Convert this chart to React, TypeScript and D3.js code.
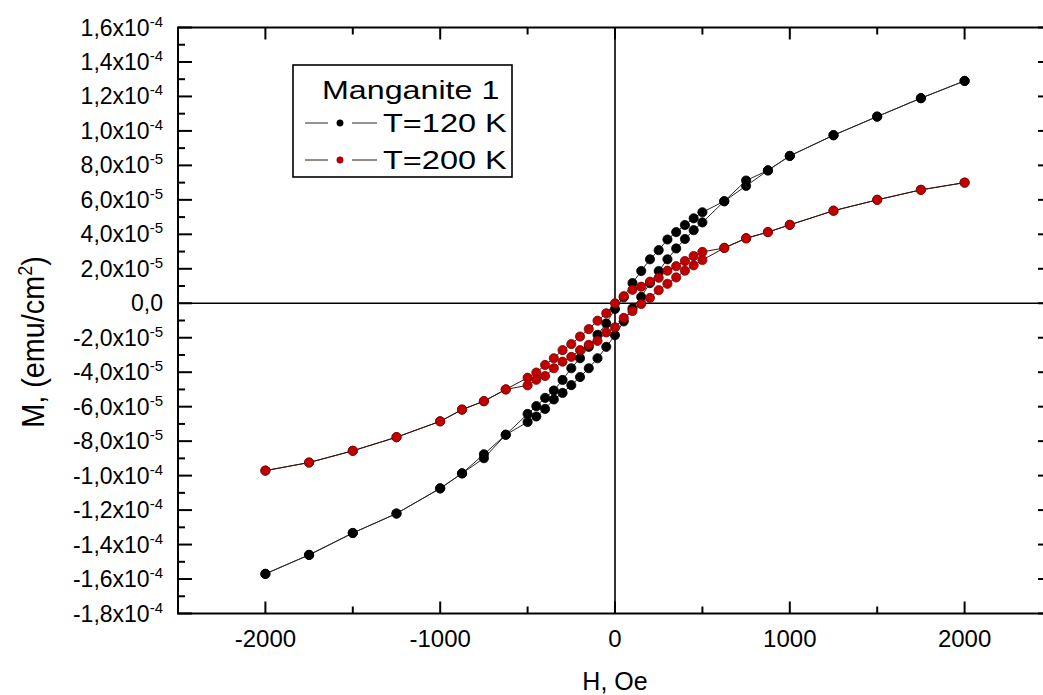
import React from "react";
import * as d3 from "d3";

// field steps of the loop, Oe (descending branch; ascending is the reverse)
const fieldDown = [
  2000, 1750, 1500, 1250, 1000, 875, 750, 625, 500, 450, 400, 350, 300, 250,
  200, 150, 100, 50, 0, -50, -100, -150, -200, -250, -300, -350, -400, -450,
  -500, -625, -750, -875, -1000, -1250, -1500, -1750, -2000,
];
const fieldUp = [...fieldDown].reverse();

// magnetisation in units of 1e-5 emu/cm^2
const m120Down = [
  12.9, 11.9, 10.83, 9.75, 8.55, 7.71, 7.12, 5.92, 5.28, 4.93, 4.54, 4.13,
  3.7, 3.08, 2.55, 1.87, 1.17, 0.35, -0.33, -1.17, -1.83, -2.53, -3.19, -3.77,
  -4.45, -5.06, -5.49, -5.97, -6.42, -7.63, -8.76, -9.87, -10.74, -12.2,
  -13.33, -14.6, -15.7,
];
const m120Up = [
  -15.7, -14.6, -13.33, -12.2, -10.74, -9.87, -8.99, -7.63, -6.89, -6.57,
  -6.13, -5.58, -5.2, -4.75, -4.28, -3.77, -3.19, -2.53, -1.85, -1.05, -0.3,
  0.37, 1.17, 1.87, 2.55, 3.18, 3.73, 4.24, 4.69, 5.92, 6.81, 7.71, 8.55, 9.75,
  10.83, 11.9, 12.9,
];
const m200Down = [
  7.0, 6.58, 6.0, 5.37, 4.55, 4.13, 3.78, 3.21, 2.98, 2.74, 2.45, 2.15, 1.89,
  1.48, 1.25, 0.96, 0.78, 0.41, 0.0, -0.58, -1.01, -1.5, -1.93, -2.37, -2.72,
  -3.19, -3.58, -4.02, -4.32, -5.0, -5.68, -6.17, -6.85, -7.77, -8.56, -9.24,
  -9.71,
];
const m200Up = [
  -9.71, -9.24, -8.56, -7.77, -6.85, -6.17, -5.68, -5.0, -4.76, -4.44, -4.22,
  -3.77, -3.39, -3.11, -2.72, -2.41, -2.18, -1.69, -1.4, -0.85, -0.45, -0.04,
  0.31, 0.76, 1.13, 1.5, 1.89, 2.2, 2.51, 3.21, 3.76, 4.13, 4.55, 5.37, 6.0,
  6.58, 7.0,
];

const xMajor = [-2000, -1000, 0, 1000, 2000];
const xMinor = [-2500, -1500, -500, 500, 1500, 2500];
const yMajor = [-18, -16, -14, -12, -10, -8, -6, -4, -2, 0, 2, 4, 6, 8, 10, 12, 14, 16];
const yMinor = [-17, -15, -13, -11, -9, -7, -5, -3, -1, 1, 3, 5, 7, 9, 11, 13, 15];

const seriesNames = ["T=120 K", "T=200 K"];

const font = "'Liberation Sans', Arial, sans-serif";

const W = 1043;
const H = 695;
const left = 178;
const right = 1052;
const top = 27.5;
const bottom = 613.5;

const x = d3.scaleLinear().domain([-2500, 2500]).range([left, right]);
const y = d3.scaleLinear().domain([-18, 16]).range([bottom, top]);

type Pt = [number, number];

const loop = (down: number[], up: number[]): Pt[] => [
  ...fieldDown.map((h, i) => [h, down[i]] as Pt),
  ...fieldUp.map((h, i) => [h, up[i]] as Pt),
];

const series = [
  { name: seriesNames[0], pts: loop(m120Down, m120Up), fill: "#000", stroke: "#000", line: "#2a2a2a" },
  { name: seriesNames[1], pts: loop(m200Down, m200Up), fill: "#c00000", stroke: "#7a0000", line: "#3a1010" },
];

const line = d3
  .line<Pt>()
  .x((d) => x(d[0]))
  .y((d) => y(d[1]));

// "1,6x10^-4" style labels
const yLabel = (v: number) => {
  if (v === 0) return { main: "0,0", exp: "" };
  const e = Math.abs(v) >= 10 ? -4 : -5;
  const m = e === -4 ? v / 10 : v;
  return { main: m.toFixed(1).replace(".", ",") + "x10", exp: String(e) };
};

const App = () => {
  return (
    <svg
      width={W}
      height={H}
      style={{ position: "absolute", left: 0, top: 0, background: "#fff" }}
      fontFamily={font}
    >
      <rect width={W} height={H} fill="#fff" />

      {/* zero lines */}
      <line x1={x(0)} x2={x(0)} y1={top} y2={bottom} stroke="#000" strokeWidth={1.6} />
      <line x1={left} x2={right} y1={y(0)} y2={y(0)} stroke="#000" strokeWidth={1.6} />

      {/* ticks */}
      {xMajor.map((v) => (
        <g key={"xm" + v}>
          <line x1={x(v)} x2={x(v)} y1={bottom} y2={bottom - 12} stroke="#000" strokeWidth={2} />
          <line x1={x(v)} x2={x(v)} y1={top} y2={top + 12} stroke="#000" strokeWidth={2} />
          <text x={x(v)} y={647} textAnchor="middle" fontSize={24}>
            {v}
          </text>
        </g>
      ))}
      {xMinor.map((v) => (
        <g key={"xn" + v}>
          <line x1={x(v)} x2={x(v)} y1={bottom} y2={bottom - 7} stroke="#000" strokeWidth={2} />
          <line x1={x(v)} x2={x(v)} y1={top} y2={top + 7} stroke="#000" strokeWidth={2} />
        </g>
      ))}
      {yMajor.map((v) => {
        const l = yLabel(v);
        return (
          <g key={"ym" + v}>
            <line x1={left} x2={left + 14} y1={y(v)} y2={y(v)} stroke="#000" strokeWidth={2} />
            <line x1={right} x2={right - 14} y1={y(v)} y2={y(v)} stroke="#000" strokeWidth={2} />
            <text x={163} y={y(v) + 8} textAnchor="end" fontSize={23}>
              {l.main}
              {l.exp && (
                <tspan dy={-9} fontSize={15}>
                  {l.exp}
                </tspan>
              )}
            </text>
          </g>
        );
      })}
      {yMinor.map((v) => (
        <g key={"yn" + v}>
          <line x1={left} x2={left + 7} y1={y(v)} y2={y(v)} stroke="#000" strokeWidth={2} />
          <line x1={right} x2={right - 7} y1={y(v)} y2={y(v)} stroke="#000" strokeWidth={2} />
        </g>
      ))}

      {/* frame */}
      <rect
        x={left}
        y={top}
        width={right - left}
        height={bottom - top}
        fill="none"
        stroke="#000"
        strokeWidth={2}
      />

      {/* data */}
      {series.map((s) => (
        <g key={s.name}>
          <path d={line(s.pts) || ""} fill="none" stroke={s.line} strokeWidth={1} />
          {s.pts.map((p, i) => (
            <circle
              key={i}
              cx={x(p[0])}
              cy={y(p[1])}
              r={4.6}
              fill={s.fill}
              stroke={s.stroke}
              strokeWidth={0.8}
            />
          ))}
        </g>
      ))}

      {/* legend */}
      <rect x={293} y={65} width={219} height={112} fill="#fff" stroke="#000" strokeWidth={1.6} />
      <text transform="translate(322,99) scale(1.24,1)" fontSize={26}>
        Manganite 1
      </text>
      {series.map((s, i) => {
        const ly = 123 + i * 37;
        return (
          <g key={"lg" + s.name}>
            <line x1={305} x2={328} y1={ly} y2={ly} stroke={s.line} strokeWidth={1} />
            <line x1={352} x2={377} y1={ly} y2={ly} stroke={s.line} strokeWidth={1} />
            <circle cx={340} cy={ly} r={3.2} fill={s.fill} stroke={s.stroke} strokeWidth={0.6} />
            <text transform={`translate(383,${ly + 9}) scale(1.25,1)`} fontSize={26}>
              {s.name}
            </text>
          </g>
        );
      })}

      {/* axis titles */}
      <text x={x(0)} y={690} textAnchor="middle" fontSize={25}>
        H, Oe
      </text>
      <text transform="translate(44,342) rotate(-90) scale(0.9,1)" textAnchor="middle" fontSize={32}>
        M, (emu/cm
        <tspan dy={-12} fontSize={20}>
          2
        </tspan>
        <tspan dy={12}>)</tspan>
      </text>
    </svg>
  );
};

export default App;
